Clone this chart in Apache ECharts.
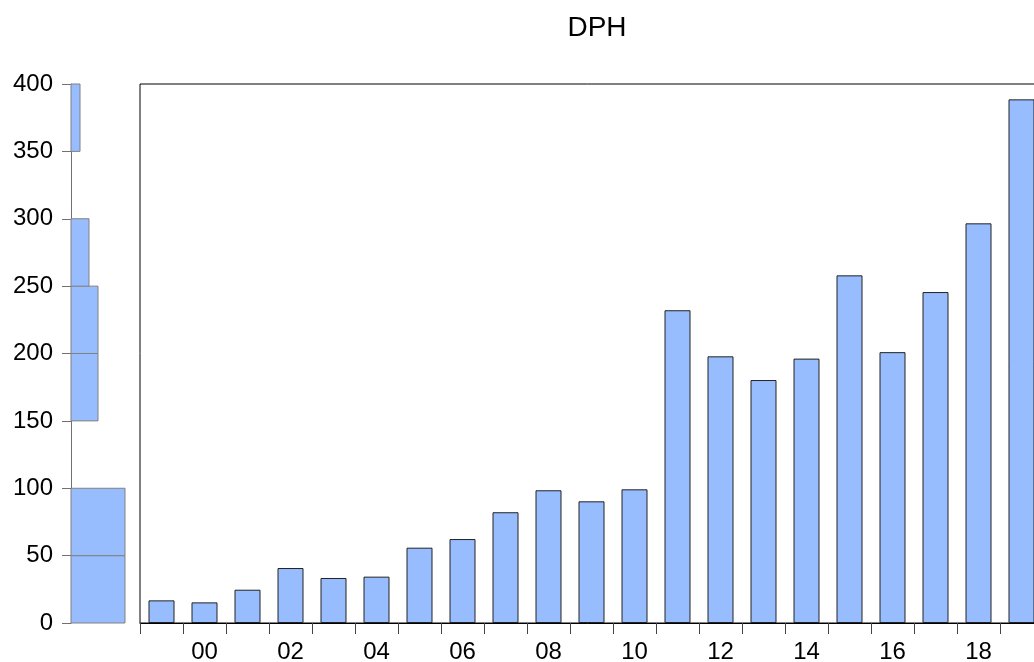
<!DOCTYPE html>
<html>
<head>
<meta charset="utf-8">
<script src="https://cdn.jsdelivr.net/npm/echarts@6/dist/echarts.min.js"></script>
<style>
html,body{margin:0;padding:0;background:#fff;}
#chart{width:1034px;height:662px;}
</style>
</head>
<body>
<div id="chart"></div>
<script>
// Data
const years = ['1999','2000','2001','2002','2003','2004','2005','2006','2007','2008','2009','2010','2011','2012','2013','2014','2015','2016','2017','2018','2019'];
const yearLabels = ['99','00','01','02','03','04','05','06','07','08','09','10','11','12','13','14','15','16','17','18','19'];
const dphValues = [16.8, 15.3, 24.7, 40.8, 33.4, 34.4, 55.9, 62.3, 82.2, 98.5, 90.3, 99.2, 232.1, 197.9, 180.3, 196.2, 258.0, 201.0, 245.6, 296.6, 388.6];
const binEdges = [0, 50, 100, 150, 200, 250, 300, 350, 400];
const yTicks = [0, 50, 100, 150, 200, 250, 300, 350, 400];

// histogram counts from the values
const histData = [];
for (let i = 0; i < binEdges.length - 1; i++) {
  const lo = binEdges[i], hi = binEdges[i + 1];
  const c = dphValues.filter(v => v >= lo && v < hi).length;
  if (c > 0) histData.push([lo, hi, c]);
}

const FILL = '#98bdff';
const FONT = 'Liberation Sans, Arial, sans-serif';

const chart = echarts.init(document.getElementById('chart'), null, {renderer: 'canvas'});
chart.setOption({
  animation: false,
  backgroundColor: '#fff',
  title: {
    text: 'DPH',
    left: 592,
    textAlign: 'center',
    top: 9,
    textStyle: {fontFamily: FONT, fontSize: 28, fontWeight: 'normal', color: '#000'}
  },
  grid: [
    {left: 71, top: 84, width: 63, bottom: 39, show: false, outerBoundsMode: 'none', containLabel: false},
    {left: 140, top: 84, width: 903, bottom: 39, show: true, borderColor: '#000', borderWidth: 1,
     backgroundColor: 'transparent', outerBoundsMode: 'none', containLabel: false}
  ],
  xAxis: [
    {gridIndex: 0, type: 'value', min: 0, max: 7, show: false},
    {
      gridIndex: 1, type: 'category', data: yearLabels, boundaryGap: true,
      axisLine: {show: true, lineStyle: {color: '#000', width: 1}},
      axisTick: {show: true, interval: 0, length: 11, lineStyle: {color: '#444'}},
      axisLabel: {
        interval: function (i) { return i % 2 === 1; },
        fontFamily: FONT, fontSize: 24, color: '#000', margin: 17
      },
      splitLine: {show: false}
    }
  ],
  yAxis: [
    {
      gridIndex: 0, type: 'value', min: yTicks[0], max: yTicks[yTicks.length - 1], interval: 50,
      axisLine: {show: true, lineStyle: {color: '#707070'}},
      axisTick: {show: true, inside: false, length: 9, lineStyle: {color: '#707070'}},
      axisLabel: {fontFamily: FONT, fontSize: 24, color: '#000', margin: 18},
      splitLine: {show: false}
    },
    {
      gridIndex: 1, type: 'value', min: 0, max: 400, interval: 50,
      axisLine: {show: false}, axisTick: {show: false}, axisLabel: {show: false},
      splitLine: {show: false}
    }
  ],
  series: [
    {
      type: 'custom',
      xAxisIndex: 0, yAxisIndex: 0,
      data: histData,
      encode: {x: 2, y: [0, 1]},
      renderItem: function (params, api) {
        const lo = api.value(0), hi = api.value(1), c = api.value(2);
        const p0 = api.coord([0, lo]);
        const p1 = api.coord([c, hi]);
        return {
          type: 'rect',
          shape: {x: p0[0], y: p1[1], width: p1[0] - p0[0], height: p0[1] - p1[1]},
          style: {fill: FILL, stroke: '#808080', lineWidth: 1}
        };
      },
      z: 1
    },
    {
      type: 'bar',
      xAxisIndex: 1, yAxisIndex: 1,
      data: dphValues,
      barWidth: 26,
      itemStyle: {color: FILL, borderColor: '#222', borderWidth: 1}
    }
  ]
});
</script>
</body>
</html>
